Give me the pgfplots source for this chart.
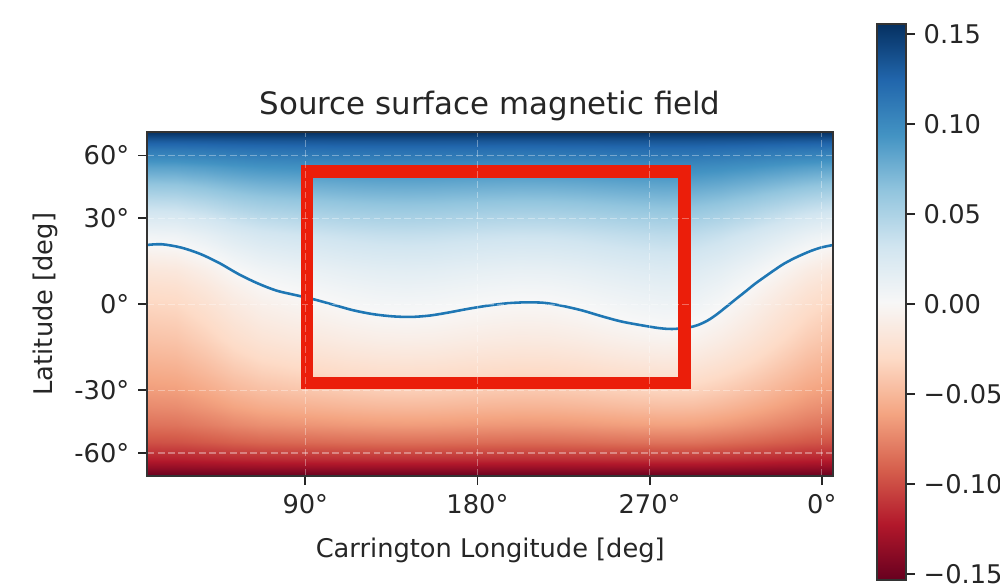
\documentclass[border=0pt]{standalone}
\usepackage{fontspec}
\setmainfont{DejaVu Sans}
\usepackage{pgfplots}
\usepackage{pgfplotstable}
\pgfplotsset{compat=1.18}
\pgfplotsset{colormap={RdBu}{rgb255=(103,0,31) rgb255=(178,24,43) rgb255=(214,96,77) rgb255=(244,165,130) rgb255=(253,219,199) rgb255=(247,247,247) rgb255=(209,229,240) rgb255=(146,197,222) rgb255=(67,147,195) rgb255=(33,102,172) rgb255=(5,48,97)}}
\definecolor{boxred}{RGB}{235,30,10}
\definecolor{nlblue}{RGB}{31,119,180}

\pgfplotstableread[row sep=\\]{
x y b\\
7.4 -1 -0.153\\ 22.5 -1 -0.153\\ 37.5 -1 -0.153\\ 52.5 -1 -0.153\\ 67.5 -1 -0.153\\ 82.5 -1 -0.153\\ 97.5 -1 -0.153\\ 112.5 -1 -0.153\\ 127.5 -1 -0.153\\ 142.5 -1 -0.153\\ 157.5 -1 -0.153\\ 172.5 -1 -0.153\\ 187.5 -1 -0.153\\ 202.5 -1 -0.153\\ 217.5 -1 -0.153\\ 232.5 -1 -0.153\\ 247.5 -1 -0.153\\ 262.5 -1 -0.153\\ 277.5 -1 -0.153\\ 292.5 -1 -0.153\\ 307.5 -1 -0.153\\ 322.5 -1 -0.153\\ 337.5 -1 -0.153\\ 352.5 -1 -0.153\\ 366.1 -1 -0.153\\
7.4 -0.95 -0.1341\\ 22.5 -0.95 -0.1340\\ 37.5 -0.95 -0.1333\\ 52.5 -0.95 -0.1324\\ 67.5 -0.95 -0.1317\\ 82.5 -0.95 -0.1314\\ 97.5 -0.95 -0.1311\\ 112.5 -0.95 -0.1308\\ 127.5 -0.95 -0.1306\\ 142.5 -0.95 -0.1306\\ 157.5 -0.95 -0.1306\\ 172.5 -0.95 -0.1308\\ 187.5 -0.95 -0.1310\\ 202.5 -0.95 -0.1311\\ 217.5 -0.95 -0.1310\\ 232.5 -0.95 -0.1308\\ 247.5 -0.95 -0.1305\\ 262.5 -0.95 -0.1303\\ 277.5 -0.95 -0.1301\\ 292.5 -0.95 -0.1302\\ 307.5 -0.95 -0.1308\\ 322.5 -0.95 -0.1316\\ 337.5 -0.95 -0.1326\\ 352.5 -0.95 -0.1335\\ 366.1 -0.95 -0.1341\\
7.4 -0.9 -0.1191\\ 22.5 -0.9 -0.1189\\ 37.5 -0.9 -0.1174\\ 52.5 -0.9 -0.1156\\ 67.5 -0.9 -0.1144\\ 82.5 -0.9 -0.1137\\ 97.5 -0.9 -0.1132\\ 112.5 -0.9 -0.1127\\ 127.5 -0.9 -0.1123\\ 142.5 -0.9 -0.1122\\ 157.5 -0.9 -0.1123\\ 172.5 -0.9 -0.1126\\ 187.5 -0.9 -0.1129\\ 202.5 -0.9 -0.1131\\ 217.5 -0.9 -0.1130\\ 232.5 -0.9 -0.1127\\ 247.5 -0.9 -0.1121\\ 262.5 -0.9 -0.1116\\ 277.5 -0.9 -0.1113\\ 292.5 -0.9 -0.1114\\ 307.5 -0.9 -0.1126\\ 322.5 -0.9 -0.1142\\ 337.5 -0.9 -0.1161\\ 352.5 -0.9 -0.1180\\ 366.1 -0.9 -0.1191\\
7.4 -0.8 -0.0976\\ 22.5 -0.8 -0.0971\\ 37.5 -0.8 -0.0944\\ 52.5 -0.8 -0.0910\\ 67.5 -0.8 -0.0886\\ 82.5 -0.8 -0.0874\\ 97.5 -0.8 -0.0864\\ 112.5 -0.8 -0.0854\\ 127.5 -0.8 -0.0847\\ 142.5 -0.8 -0.0844\\ 157.5 -0.8 -0.0847\\ 172.5 -0.8 -0.0853\\ 187.5 -0.8 -0.0859\\ 202.5 -0.8 -0.0863\\ 217.5 -0.8 -0.0861\\ 232.5 -0.8 -0.0854\\ 247.5 -0.8 -0.0843\\ 262.5 -0.8 -0.0834\\ 277.5 -0.8 -0.0827\\ 292.5 -0.8 -0.0830\\ 307.5 -0.8 -0.0852\\ 322.5 -0.8 -0.0883\\ 337.5 -0.8 -0.0919\\ 352.5 -0.8 -0.0954\\ 366.1 -0.8 -0.0976\\
7.4 -0.7 -0.0835\\ 22.5 -0.7 -0.0827\\ 37.5 -0.7 -0.0789\\ 52.5 -0.7 -0.0741\\ 67.5 -0.7 -0.0707\\ 82.5 -0.7 -0.0690\\ 97.5 -0.7 -0.0676\\ 112.5 -0.7 -0.0662\\ 127.5 -0.7 -0.0652\\ 142.5 -0.7 -0.0648\\ 157.5 -0.7 -0.0651\\ 172.5 -0.7 -0.0660\\ 187.5 -0.7 -0.0668\\ 202.5 -0.7 -0.0674\\ 217.5 -0.7 -0.0671\\ 232.5 -0.7 -0.0661\\ 247.5 -0.7 -0.0646\\ 262.5 -0.7 -0.0633\\ 277.5 -0.7 -0.0624\\ 292.5 -0.7 -0.0628\\ 307.5 -0.7 -0.0658\\ 322.5 -0.7 -0.0702\\ 337.5 -0.7 -0.0753\\ 352.5 -0.7 -0.0803\\ 366.1 -0.7 -0.0835\\
7.4 -0.6 -0.0727\\ 22.5 -0.6 -0.0717\\ 37.5 -0.6 -0.0670\\ 52.5 -0.6 -0.0609\\ 67.5 -0.6 -0.0567\\ 82.5 -0.6 -0.0545\\ 97.5 -0.6 -0.0528\\ 112.5 -0.6 -0.0510\\ 127.5 -0.6 -0.0497\\ 142.5 -0.6 -0.0492\\ 157.5 -0.6 -0.0496\\ 172.5 -0.6 -0.0508\\ 187.5 -0.6 -0.0518\\ 202.5 -0.6 -0.0524\\ 217.5 -0.6 -0.0521\\ 232.5 -0.6 -0.0508\\ 247.5 -0.6 -0.0490\\ 262.5 -0.6 -0.0474\\ 277.5 -0.6 -0.0462\\ 292.5 -0.6 -0.0468\\ 307.5 -0.6 -0.0505\\ 322.5 -0.6 -0.0560\\ 337.5 -0.6 -0.0624\\ 352.5 -0.6 -0.0687\\ 366.1 -0.6 -0.0727\\
7.4 -0.5 -0.0642\\ 22.5 -0.5 -0.0631\\ 37.5 -0.5 -0.0576\\ 52.5 -0.5 -0.0504\\ 67.5 -0.5 -0.0455\\ 82.5 -0.5 -0.0429\\ 97.5 -0.5 -0.0409\\ 112.5 -0.5 -0.0388\\ 127.5 -0.5 -0.0373\\ 142.5 -0.5 -0.0367\\ 157.5 -0.5 -0.0372\\ 172.5 -0.5 -0.0386\\ 187.5 -0.5 -0.0398\\ 202.5 -0.5 -0.0405\\ 217.5 -0.5 -0.0402\\ 232.5 -0.5 -0.0386\\ 247.5 -0.5 -0.0365\\ 262.5 -0.5 -0.0346\\ 277.5 -0.5 -0.0332\\ 292.5 -0.5 -0.0338\\ 307.5 -0.5 -0.0383\\ 322.5 -0.5 -0.0447\\ 337.5 -0.5 -0.0522\\ 352.5 -0.5 -0.0596\\ 366.1 -0.5 -0.0642\\
7.4 -0.4 -0.0571\\ 22.5 -0.4 -0.0559\\ 37.5 -0.4 -0.0497\\ 52.5 -0.4 -0.0417\\ 67.5 -0.4 -0.0361\\ 82.5 -0.4 -0.0333\\ 97.5 -0.4 -0.0310\\ 112.5 -0.4 -0.0287\\ 127.5 -0.4 -0.0270\\ 142.5 -0.4 -0.0263\\ 157.5 -0.4 -0.0269\\ 172.5 -0.4 -0.0284\\ 187.5 -0.4 -0.0297\\ 202.5 -0.4 -0.0306\\ 217.5 -0.4 -0.0302\\ 232.5 -0.4 -0.0285\\ 247.5 -0.4 -0.0261\\ 262.5 -0.4 -0.0240\\ 277.5 -0.4 -0.0224\\ 292.5 -0.4 -0.0231\\ 307.5 -0.4 -0.0281\\ 322.5 -0.4 -0.0353\\ 337.5 -0.4 -0.0437\\ 352.5 -0.4 -0.0519\\ 366.1 -0.4 -0.0571\\
7.4 -0.3 -0.0504\\ 22.5 -0.3 -0.0490\\ 37.5 -0.3 -0.0423\\ 52.5 -0.3 -0.0336\\ 67.5 -0.3 -0.0276\\ 82.5 -0.3 -0.0245\\ 97.5 -0.3 -0.0221\\ 112.5 -0.3 -0.0195\\ 127.5 -0.3 -0.0177\\ 142.5 -0.3 -0.0170\\ 157.5 -0.3 -0.0176\\ 172.5 -0.3 -0.0193\\ 187.5 -0.3 -0.0207\\ 202.5 -0.3 -0.0216\\ 217.5 -0.3 -0.0212\\ 232.5 -0.3 -0.0194\\ 247.5 -0.3 -0.0167\\ 262.5 -0.3 -0.0144\\ 277.5 -0.3 -0.0127\\ 292.5 -0.3 -0.0135\\ 307.5 -0.3 -0.0189\\ 322.5 -0.3 -0.0267\\ 337.5 -0.3 -0.0358\\ 352.5 -0.3 -0.0448\\ 366.1 -0.3 -0.0504\\
7.4 -0.2 -0.0440\\ 22.5 -0.2 -0.0426\\ 37.5 -0.2 -0.0355\\ 52.5 -0.2 -0.0263\\ 67.5 -0.2 -0.0200\\ 82.5 -0.2 -0.0167\\ 97.5 -0.2 -0.0142\\ 112.5 -0.2 -0.0115\\ 127.5 -0.2 -0.0095\\ 142.5 -0.2 -0.0088\\ 157.5 -0.2 -0.0094\\ 172.5 -0.2 -0.0112\\ 187.5 -0.2 -0.0127\\ 202.5 -0.2 -0.0137\\ 217.5 -0.2 -0.0132\\ 232.5 -0.2 -0.0113\\ 247.5 -0.2 -0.0085\\ 262.5 -0.2 -0.0061\\ 277.5 -0.2 -0.0043\\ 292.5 -0.2 -0.0051\\ 307.5 -0.2 -0.0108\\ 322.5 -0.2 -0.0190\\ 337.5 -0.2 -0.0286\\ 352.5 -0.2 -0.0381\\ 366.1 -0.2 -0.0440\\
7.4 -0.1 -0.0380\\ 22.5 -0.1 -0.0365\\ 37.5 -0.1 -0.0292\\ 52.5 -0.1 -0.0198\\ 67.5 -0.1 -0.0132\\ 82.5 -0.1 -0.0099\\ 97.5 -0.1 -0.0072\\ 112.5 -0.1 -0.0044\\ 127.5 -0.1 -0.0024\\ 142.5 -0.1 -0.0016\\ 157.5 -0.1 -0.0023\\ 172.5 -0.1 -0.0041\\ 187.5 -0.1 -0.0057\\ 202.5 -0.1 -0.0067\\ 217.5 -0.1 -0.0062\\ 232.5 -0.1 -0.0042\\ 247.5 -0.1 -0.0013\\ 262.5 -0.1 0.0011\\ 277.5 -0.1 0.0030\\ 292.5 -0.1 0.0021\\ 307.5 -0.1 -0.0037\\ 322.5 -0.1 -0.0122\\ 337.5 -0.1 -0.0221\\ 352.5 -0.1 -0.0318\\ 366.1 -0.1 -0.0380\\
7.4 0 -0.0323\\ 22.5 0 -0.0308\\ 37.5 0 -0.0234\\ 52.5 0 -0.0139\\ 67.5 0 -0.0073\\ 82.5 0 -0.0039\\ 97.5 0 -0.0012\\ 112.5 0 0.0016\\ 127.5 0 0.0036\\ 142.5 0 0.0044\\ 157.5 0 0.0037\\ 172.5 0 0.0019\\ 187.5 0 0.0003\\ 202.5 0 -0.0007\\ 217.5 0 -0.0002\\ 232.5 0 0.0018\\ 247.5 0 0.0047\\ 262.5 0 0.0072\\ 277.5 0 0.0091\\ 292.5 0 0.0082\\ 307.5 0 0.0023\\ 322.5 0 -0.0063\\ 337.5 0 -0.0163\\ 352.5 0 -0.0261\\ 366.1 0 -0.0323\\
7.4 0.1 -0.0255\\ 22.5 0.1 -0.0240\\ 37.5 0.1 -0.0167\\ 52.5 0.1 -0.0073\\ 67.5 0.1 -0.0007\\ 82.5 0.1 0.0026\\ 97.5 0.1 0.0053\\ 112.5 0.1 0.0081\\ 127.5 0.1 0.0101\\ 142.5 0.1 0.0109\\ 157.5 0.1 0.0102\\ 172.5 0.1 0.0084\\ 187.5 0.1 0.0068\\ 202.5 0.1 0.0058\\ 217.5 0.1 0.0063\\ 232.5 0.1 0.0083\\ 247.5 0.1 0.0112\\ 262.5 0.1 0.0136\\ 277.5 0.1 0.0155\\ 292.5 0.1 0.0146\\ 307.5 0.1 0.0088\\ 322.5 0.1 0.0003\\ 337.5 0.1 -0.0096\\ 352.5 0.1 -0.0193\\ 366.1 0.1 -0.0255\\
7.4 0.2 -0.0170\\ 22.5 0.2 -0.0156\\ 37.5 0.2 -0.0085\\ 52.5 0.2 0.0007\\ 67.5 0.2 0.0070\\ 82.5 0.2 0.0103\\ 97.5 0.2 0.0128\\ 112.5 0.2 0.0155\\ 127.5 0.2 0.0175\\ 142.5 0.2 0.0182\\ 157.5 0.2 0.0176\\ 172.5 0.2 0.0158\\ 187.5 0.2 0.0143\\ 202.5 0.2 0.0133\\ 217.5 0.2 0.0138\\ 232.5 0.2 0.0157\\ 247.5 0.2 0.0185\\ 262.5 0.2 0.0209\\ 277.5 0.2 0.0227\\ 292.5 0.2 0.0219\\ 307.5 0.2 0.0162\\ 322.5 0.2 0.0080\\ 337.5 0.2 -0.0016\\ 352.5 0.2 -0.0111\\ 366.1 0.2 -0.0170\\
7.4 0.3 -0.0059\\ 22.5 0.3 -0.0045\\ 37.5 0.3 0.0022\\ 52.5 0.3 0.0109\\ 67.5 0.3 0.0169\\ 82.5 0.3 0.0200\\ 97.5 0.3 0.0224\\ 112.5 0.3 0.0250\\ 127.5 0.3 0.0268\\ 142.5 0.3 0.0275\\ 157.5 0.3 0.0269\\ 172.5 0.3 0.0252\\ 187.5 0.3 0.0238\\ 202.5 0.3 0.0229\\ 217.5 0.3 0.0233\\ 232.5 0.3 0.0251\\ 247.5 0.3 0.0278\\ 262.5 0.3 0.0301\\ 277.5 0.3 0.0318\\ 292.5 0.3 0.0310\\ 307.5 0.3 0.0256\\ 322.5 0.3 0.0178\\ 337.5 0.3 0.0087\\ 352.5 0.3 -0.0003\\ 366.1 0.3 -0.0059\\
7.4 0.4 0.0074\\ 22.5 0.4 0.0086\\ 37.5 0.4 0.0148\\ 52.5 0.4 0.0228\\ 67.5 0.4 0.0284\\ 82.5 0.4 0.0312\\ 97.5 0.4 0.0335\\ 112.5 0.4 0.0358\\ 127.5 0.4 0.0375\\ 142.5 0.4 0.0382\\ 157.5 0.4 0.0376\\ 172.5 0.4 0.0361\\ 187.5 0.4 0.0348\\ 202.5 0.4 0.0339\\ 217.5 0.4 0.0343\\ 232.5 0.4 0.0360\\ 247.5 0.4 0.0384\\ 262.5 0.4 0.0405\\ 277.5 0.4 0.0421\\ 292.5 0.4 0.0414\\ 307.5 0.4 0.0364\\ 322.5 0.4 0.0292\\ 337.5 0.4 0.0208\\ 352.5 0.4 0.0126\\ 366.1 0.4 0.0074\\
7.4 0.5 0.0238\\ 22.5 0.5 0.0249\\ 37.5 0.5 0.0304\\ 52.5 0.5 0.0376\\ 67.5 0.5 0.0425\\ 82.5 0.5 0.0451\\ 97.5 0.5 0.0471\\ 112.5 0.5 0.0492\\ 127.5 0.5 0.0507\\ 142.5 0.5 0.0513\\ 157.5 0.5 0.0508\\ 172.5 0.5 0.0494\\ 187.5 0.5 0.0482\\ 202.5 0.5 0.0475\\ 217.5 0.5 0.0478\\ 232.5 0.5 0.0494\\ 247.5 0.5 0.0515\\ 262.5 0.5 0.0534\\ 277.5 0.5 0.0548\\ 292.5 0.5 0.0542\\ 307.5 0.5 0.0497\\ 322.5 0.5 0.0433\\ 337.5 0.5 0.0358\\ 352.5 0.5 0.0284\\ 366.1 0.5 0.0238\\
7.4 0.6 0.0423\\ 22.5 0.6 0.0433\\ 37.5 0.6 0.0480\\ 52.5 0.6 0.0541\\ 67.5 0.6 0.0583\\ 82.5 0.6 0.0605\\ 97.5 0.6 0.0622\\ 112.5 0.6 0.0640\\ 127.5 0.6 0.0653\\ 142.5 0.6 0.0658\\ 157.5 0.6 0.0654\\ 172.5 0.6 0.0642\\ 187.5 0.6 0.0632\\ 202.5 0.6 0.0626\\ 217.5 0.6 0.0629\\ 232.5 0.6 0.0642\\ 247.5 0.6 0.0660\\ 262.5 0.6 0.0676\\ 277.5 0.6 0.0688\\ 292.5 0.6 0.0682\\ 307.5 0.6 0.0645\\ 322.5 0.6 0.0590\\ 337.5 0.6 0.0526\\ 352.5 0.6 0.0463\\ 366.1 0.6 0.0423\\
7.4 0.7 0.0625\\ 22.5 0.7 0.0633\\ 37.5 0.7 0.0671\\ 52.5 0.7 0.0719\\ 67.5 0.7 0.0753\\ 82.5 0.7 0.0770\\ 97.5 0.7 0.0784\\ 112.5 0.7 0.0798\\ 127.5 0.7 0.0808\\ 142.5 0.7 0.0812\\ 157.5 0.7 0.0809\\ 172.5 0.7 0.0800\\ 187.5 0.7 0.0792\\ 202.5 0.7 0.0786\\ 217.5 0.7 0.0789\\ 232.5 0.7 0.0799\\ 247.5 0.7 0.0814\\ 262.5 0.7 0.0827\\ 277.5 0.7 0.0836\\ 292.5 0.7 0.0832\\ 307.5 0.7 0.0802\\ 322.5 0.7 0.0758\\ 337.5 0.7 0.0707\\ 352.5 0.7 0.0657\\ 366.1 0.7 0.0625\\
7.4 0.8 0.0844\\ 22.5 0.8 0.0849\\ 37.5 0.8 0.0876\\ 52.5 0.8 0.0910\\ 67.5 0.8 0.0934\\ 82.5 0.8 0.0946\\ 97.5 0.8 0.0956\\ 112.5 0.8 0.0966\\ 127.5 0.8 0.0973\\ 142.5 0.8 0.0976\\ 157.5 0.8 0.0973\\ 172.5 0.8 0.0967\\ 187.5 0.8 0.0961\\ 202.5 0.8 0.0957\\ 217.5 0.8 0.0959\\ 232.5 0.8 0.0966\\ 247.5 0.8 0.0977\\ 262.5 0.8 0.0986\\ 277.5 0.8 0.0993\\ 292.5 0.8 0.0990\\ 307.5 0.8 0.0968\\ 322.5 0.8 0.0937\\ 337.5 0.8 0.0901\\ 352.5 0.8 0.0866\\ 366.1 0.8 0.0844\\
7.4 0.9 0.1109\\ 22.5 0.9 0.1111\\ 37.5 0.9 0.1126\\ 52.5 0.9 0.1144\\ 67.5 0.9 0.1156\\ 82.5 0.9 0.1163\\ 97.5 0.9 0.1168\\ 112.5 0.9 0.1173\\ 127.5 0.9 0.1177\\ 142.5 0.9 0.1178\\ 157.5 0.9 0.1177\\ 172.5 0.9 0.1174\\ 187.5 0.9 0.1171\\ 202.5 0.9 0.1169\\ 217.5 0.9 0.1170\\ 232.5 0.9 0.1173\\ 247.5 0.9 0.1179\\ 262.5 0.9 0.1184\\ 277.5 0.9 0.1187\\ 292.5 0.9 0.1186\\ 307.5 0.9 0.1174\\ 322.5 0.9 0.1158\\ 337.5 0.9 0.1139\\ 352.5 0.9 0.1120\\ 366.1 0.9 0.1109\\
7.4 0.95 0.1299\\ 22.5 0.95 0.1300\\ 37.5 0.95 0.1307\\ 52.5 0.95 0.1316\\ 67.5 0.95 0.1323\\ 82.5 0.95 0.1326\\ 97.5 0.95 0.1329\\ 112.5 0.95 0.1332\\ 127.5 0.95 0.1334\\ 142.5 0.95 0.1334\\ 157.5 0.95 0.1334\\ 172.5 0.95 0.1332\\ 187.5 0.95 0.1330\\ 202.5 0.95 0.1329\\ 217.5 0.95 0.1330\\ 232.5 0.95 0.1332\\ 247.5 0.95 0.1335\\ 262.5 0.95 0.1337\\ 277.5 0.95 0.1339\\ 292.5 0.95 0.1338\\ 307.5 0.95 0.1332\\ 322.5 0.95 0.1324\\ 337.5 0.95 0.1314\\ 352.5 0.95 0.1305\\ 366.1 0.95 0.1299\\
7.4 1 0.155\\ 22.5 1 0.155\\ 37.5 1 0.155\\ 52.5 1 0.155\\ 67.5 1 0.155\\ 82.5 1 0.155\\ 97.5 1 0.155\\ 112.5 1 0.155\\ 127.5 1 0.155\\ 142.5 1 0.155\\ 157.5 1 0.155\\ 172.5 1 0.155\\ 187.5 1 0.155\\ 202.5 1 0.155\\ 217.5 1 0.155\\ 232.5 1 0.155\\ 247.5 1 0.155\\ 262.5 1 0.155\\ 277.5 1 0.155\\ 292.5 1 0.155\\ 307.5 1 0.155\\ 322.5 1 0.155\\ 337.5 1 0.155\\ 352.5 1 0.155\\ 366.1 1 0.155\\
}\field

\pgfplotstableread{
lon s
7.4 0.345
15 0.349
25 0.330
35 0.293
45 0.240
55 0.176
65 0.122
75 0.079
85 0.053
95 0.027
105 -0.004
115 -0.035
125 -0.057
135 -0.070
145 -0.074
155 -0.066
165 -0.048
175 -0.027
185 -0.009
195 0.005
205 0.011
215 0.008
225 -0.011
235 -0.037
245 -0.070
255 -0.100
265 -0.121
275 -0.139
282 -0.144
290 -0.136
295 -0.122
300 -0.097
305 -0.060
310 -0.016
315 0.029
320 0.073
325 0.118
330 0.158
335 0.197
340 0.234
345 0.264
350 0.290
355 0.313
360 0.331
366.1 0.345
}\nline

\begin{document}
\begin{tikzpicture}[x=1pt,y=1pt]
\path[use as bounding box] (0,0) rectangle (389,226.8);
\begin{axis}[
  at={(57.3pt,41.6pt)}, anchor=south west,
  scale only axis, width=266.9pt, height=133.7pt,
  xmin=7.4, xmax=366.1, ymin=-1, ymax=1, enlargelimits=false,
  colormap name=RdBu, point meta min=-0.1533, point meta max=0.1554,
  axis on top,
  xtick={90,180,270,360}, xticklabels={90°,180°,270°,0°},
  ytick={-0.866,-0.5,0,0.5,0.866}, yticklabels={-60°,-30°,0°,30°,60°},
  tick pos=left, tick align=outside, major tick length=3.5pt,
  tick style={black!85, line width=0.7pt},
  tick label style={font=\fontsize{10}{12}\selectfont, text=black!85},
  axis line style={black!80, line width=0.8pt},
  grid=major,
  major grid style={white, opacity=0.35, line width=0.45pt, dash pattern=on 2.7pt off 1.3pt},
]
\addplot[surf, shader=interp, mesh/cols=25, point meta=\thisrow{b}] table[x=x, y=y] {\field};
\addplot[nlblue, line width=1pt, smooth, no markers] table[x=lon, y=s] {\nline};
\addplot[boxred, line width=4.9pt, line cap=rect, line join=miter, no markers] coordinates {(90.8,0.774) (288.3,0.774) (288.3,-0.459) (90.8,-0.459) (90.8,0.774)};
\end{axis}

\begin{axis}[
  at={(341.0pt,1.17pt)}, anchor=south west,
  scale only axis, width=11.3pt, height=216.2pt,
  xmin=0, xmax=1, ymin=-0.1533, ymax=0.1554, enlargelimits=false,
  colormap name=RdBu, point meta min=-0.1533, point meta max=0.1554,
  axis on top,
  xtick=\empty,
  ytick={-0.15,-0.1,-0.05,0,0.05,0.1,0.15},
  yticklabels={−0.15,−0.10,−0.05,0.00,0.05,0.10,0.15},
  ytick pos=right, yticklabel pos=right, tick align=outside, major tick length=3.5pt,
  tick style={black!85, line width=0.7pt},
  tick label style={font=\fontsize{10}{12}\selectfont, text=black!85},
  axis line style={black!80, line width=0.8pt},
]
\addplot[surf, shader=interp, mesh/cols=2, point meta=y] table[row sep=\\] {
x y\\
0 -0.1533\\ 1 -0.1533\\
0 -0.1\\ 1 -0.1\\
0 -0.05\\ 1 -0.05\\
0 0\\ 1 0\\
0 0.05\\ 1 0.05\\
0 0.1\\ 1 0.1\\
0 0.1554\\ 1 0.1554\\
};
\end{axis}

\node[anchor=base, font=\fontsize{12}{14}\selectfont, text=black!85] at (190.7,182.1) {Source surface magnetic field};
\node[anchor=base, font=\fontsize{10}{12}\selectfont, text=black!85] at (190.7,10.1) {Carrington Longitude [deg]};
\node[anchor=base, rotate=90, font=\fontsize{10}{12}\selectfont, text=black!85] at (20.6,108.5) {Latitude [deg]};
\end{tikzpicture}
\end{document}
